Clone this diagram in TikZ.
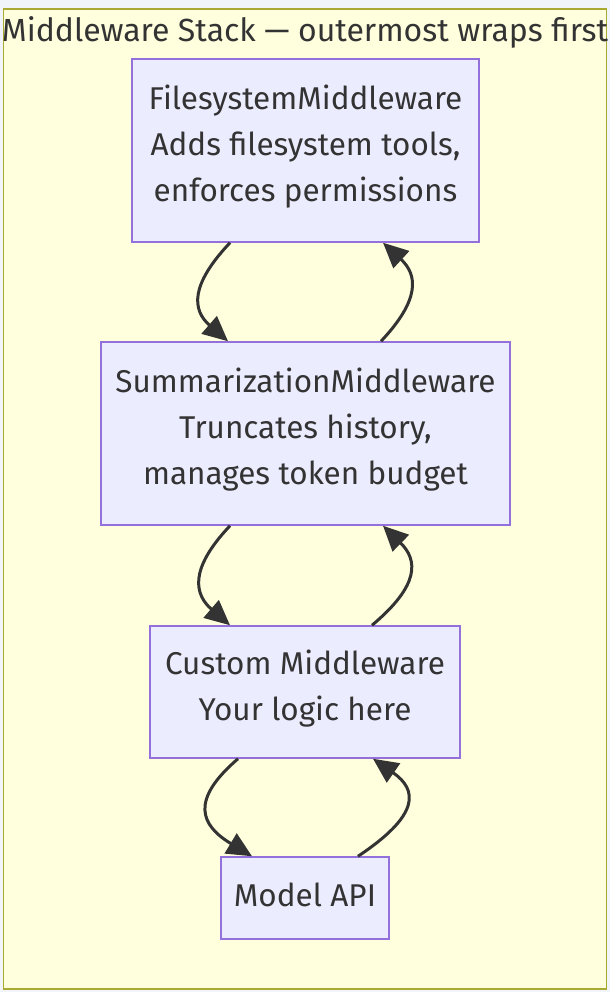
\documentclass[tikz,border=0pt]{standalone}
\usepackage{fontspec}
\setmainfont{Fira Sans}
\usetikzlibrary{arrows.meta,calc}
\definecolor{nodefill}{HTML}{ECECFF}
\definecolor{nodeline}{HTML}{9370DB}
\definecolor{clfill}{HTML}{FFFFDE}
\definecolor{clline}{HTML}{AAAA33}
\definecolor{ink}{HTML}{333333}
\definecolor{outer}{HTML}{F1F4F8}
\begin{document}
\begin{tikzpicture}[x=1pt,y=-1pt,
  box/.style={draw=nodeline,fill=nodefill,line width=1.5pt,align=center,
    font=\fontsize{31.5}{46}\selectfont,text=ink,inner sep=0pt,text depth=14pt},
  conn/.style={draw=ink,line width=3pt,-{Triangle[length=25pt,width=23pt]}}]
\useasboundingbox[fill=outer] (0,0) rectangle (610,992);
\node[draw=clline,fill=clfill,line width=1.5pt,minimum width=603pt,minimum height=980pt,inner sep=0pt] (cluster) at (305,499) {};
\node[font=\fontsize{32}{36}\selectfont,text=ink] (title) at (305,32) {Middleware Stack — outermost wraps first};
\node[box,minimum width=347pt,minimum height=183pt] (fs) at (305.5,150.5)
  {FilesystemMiddleware\\Adds filesystem tools,\\enforces permissions};
\node[box,minimum width=409pt,minimum height=183pt] (sum) at (305.5,433.5)
  {SummarizationMiddleware\\Truncates history,\\manages token budget};
\node[box,minimum width=310pt,minimum height=132pt] (cust) at (305,692)
  {Custom Middleware\\Your logic here};
\node[box,minimum width=168pt,minimum height=82pt,text depth=6pt] (model) at (305,898)
  {Model API};
\draw[conn] ($(fs.south)+(-75.5,0)$) .. controls (190,285) and (192,310) .. ($(sum.north)+(-77.5,0)$);
\draw[conn] ($(sum.north)+(75.5,0)$) .. controls (420,300) and (418,275) .. ($(fs.south)+(77.5,0)$);
\draw[conn] ($(sum.south)+(-75.5,0)$) .. controls (188,570) and (195,595) .. ($(cust.north)+(-75,0)$);
\draw[conn] ($(cust.north)+(67,0)$) .. controls (420,585) and (418,560) .. ($(sum.south)+(77.5,0)$);
\draw[conn] ($(cust.south)+(-67,0)$) .. controls (190,800) and (200,825) .. ($(model.north)+(-53,0)$);
\draw[conn] ($(model.north)+(53,0)$) .. controls (420,815) and (418,790) .. ($(cust.south)+(68,0)$);
\end{tikzpicture}
\end{document}
